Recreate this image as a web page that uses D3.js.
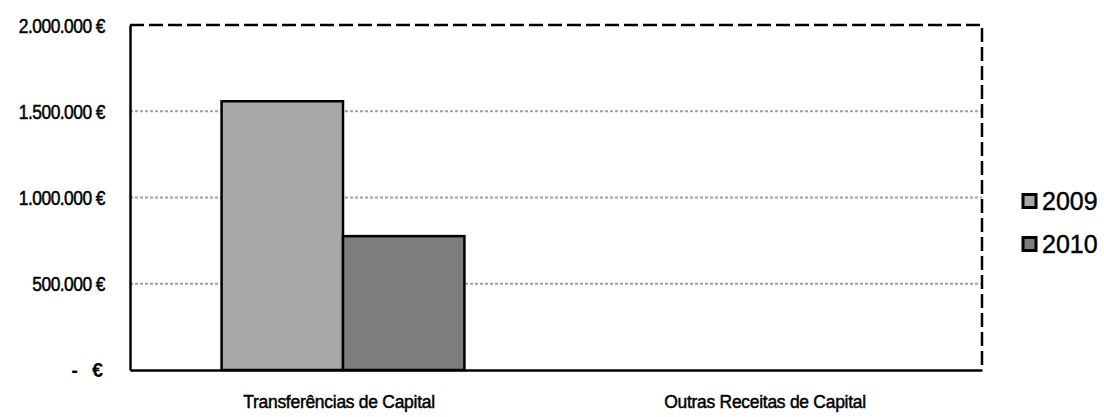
<!DOCTYPE html>
<html>
<head>
<meta charset="utf-8">
<script src="https://cdn.jsdelivr.net/npm/d3@7"></script>
<style>
  body { margin: 0; background: #fff; }
  svg { display: block; }
  text { font-family: "Liberation Sans", Arial, sans-serif; fill: #000; }
</style>
</head>
<body>
<svg></svg>
<script>
let categories = ['Transferências de Capital', 'Outras Receitas de Capital'];
let years = ['2009', '2010'];
let values2009 = [1558000, 0];
let values2010 = [776000, 0];
let yTicks = [0, 500000, 1000000, 1500000, 2000000];
let colors = ['#a8a8a8', '#7d7d7d'];

let width = 1104;
let height = 417;
let plotLeft = 130, plotRight = 982, plotTop = 25, plotBottom = 370;

let svg = d3.select('svg').attr('width', width).attr('height', height);

let xScale = d3.scaleBand()
    .domain(categories)
    .range([plotLeft, plotRight])
    .paddingInner(0.43)
    .paddingOuter(0.215);

let xInner = d3.scaleBand()
    .domain(years)
    .range([0, xScale.bandwidth()]);

let yScale = d3.scaleLinear()
    .domain([0, 2000000])
    .range([plotBottom, plotTop]);

let fmt = (v) => v === 0 ? '' : d3.format(',')(v).replace(/,/g, '.') + ' €';

// gridlines
svg.append('g')
    .selectAll('line')
    .data(yTicks.filter(d => d > 0 && d < 2000000))
    .enter()
    .append('line')
    .attr('x1', plotLeft)
    .attr('x2', plotRight)
    .attr('y1', d => yScale(d))
    .attr('y2', d => yScale(d))
    .attr('stroke', '#a0a0a0')
    .attr('stroke-width', 2)
    .attr('stroke-dasharray', '3,2');

// frame: dashed top/right
svg.append('path')
    .attr('d', `M${plotLeft},${plotTop}H${plotRight}V${plotBottom}`)
    .attr('fill', 'none')
    .attr('stroke', '#000')
    .attr('stroke-width', 2.5)
    .attr('stroke-dasharray', '14,5');

// bars
let groups = svg.append('g')
    .selectAll('g')
    .data(categories)
    .enter()
    .append('g')
    .attr('transform', d => `translate(${xScale(d)},0)`);

groups.selectAll('rect')
    .data((d, i) => [
        { year: '2009', value: values2009[i] },
        { year: '2010', value: values2010[i] }
    ].filter(b => b.value > 0))
    .enter()
    .append('rect')
    .attr('x', d => xInner(d.year))
    .attr('y', d => yScale(d.value))
    .attr('width', xInner.bandwidth())
    .attr('height', d => plotBottom - yScale(d.value))
    .attr('fill', (d) => colors[years.indexOf(d.year)])
    .attr('stroke', '#000')
    .attr('stroke-width', 2.5);

// y axis
let yAxis = d3.axisLeft(yScale)
    .tickValues(yTicks)
    .tickSize(0)
    .tickPadding(25)
    .tickFormat(fmt);

let yg = svg.append('g')
    .attr('transform', `translate(${plotLeft},0)`)
    .call(yAxis);
yg.select('.domain').attr('stroke', '#000').attr('stroke-width', 2.5);
yg.selectAll('.tick text')
    .style('font-size', '20px')
    .style('letter-spacing', '-0.6px')
    .attr('x', -25 / 0.87)
    .attr('dy', '0.36em')
    .attr('stroke', '#000')
    .attr('stroke-width', 0.5)
    .attr('transform', 'scale(0.87,1)');

// zero label "-  €"
let zeroLabel = yg.append('text')
    .attr('x', -27)
    .attr('y', yScale(0))
    .attr('dy', '0.36em')
    .attr('text-anchor', 'end')
    .style('font-size', '20px')
    .style('font-weight', 'bold');
zeroLabel.append('tspan').text('-');
zeroLabel.append('tspan').attr('dx', 14).text('€');

// x axis
let xAxis = d3.axisBottom(xScale).tickSize(0).tickPadding(25);
let xg = svg.append('g')
    .attr('transform', `translate(0,${plotBottom})`)
    .call(xAxis);
xg.select('.domain').attr('stroke', '#000').attr('stroke-width', 2.5);
xg.selectAll('.tick text')
    .style('font-size', '19px')
    .style('letter-spacing', '-0.3px')
    .attr('stroke', '#000')
    .attr('stroke-width', 0.5)
    .attr('transform', 'translate(-4,0) scale(0.92,1)');

// legend
let legend = svg.append('g')
    .selectAll('g')
    .data(years)
    .enter()
    .append('g')
    .attr('transform', (d, i) => `translate(1022,${201 + i * 43})`);

legend.append('rect')
    .attr('x', 1)
    .attr('y', -6.5)
    .attr('width', 13)
    .attr('height', 13)
    .attr('fill', (d, i) => colors[i])
    .attr('stroke', '#000')
    .attr('stroke-width', 3);

legend.append('text')
    .attr('x', 20)
    .attr('y', 0)
    .attr('dy', '0.36em')
    .style('font-size', '25px')
    .attr('stroke', '#000')
    .attr('stroke-width', 0.4)
    .text(d => d);
</script>
</body>
</html>
